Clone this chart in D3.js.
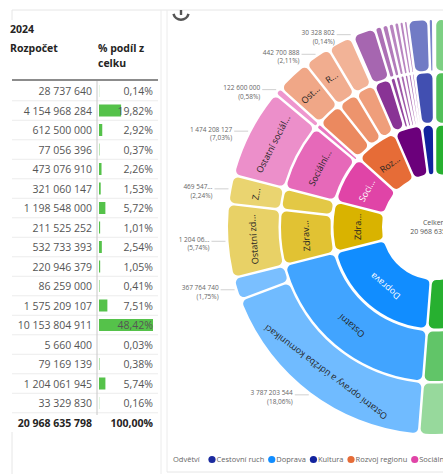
<!DOCTYPE html>
<html><head><meta charset="utf-8">
<script src="https://cdn.jsdelivr.net/npm/d3@7"></script>
<style>
body{margin:0;background:#fff;font-family:'Open Sans','Segoe UI',sans-serif;}
svg{display:block}
</style>
</head><body>
<svg id="c" width="443" height="474"></svg>
<script>
// ---------- TABLE DATA ----------
const tableYear = "2024";
const tableHeaders = ["Rozpočet", "% podíl z", "celku"];
const budgetValues = [28737640, 4154968284, 612500000, 77056396, 473076910, 321060147,
  1198548000, 211525252, 532733393, 220946379, 86259000, 1575209107, 10153804911,
  5660400, 79169139, 1204061945, 33329830];
const budgetTotal = 20968635798;

// ---------- SUNBURST DATA ----------
const sectorNames = ["Školství", "Doprava", "Zdravotnictví", "Sociální věci", "Rozvoj regionu", "Sport", "Kultura", "Cestovní ruch"];
const sectorColors = ["#27B030", "#118DFF", "#D9B300", "#E044A7", "#E66C37", "#6B007B", "#12239E", "#2A3BB0"];
const leafSector = [
  "Školství", "Školství", "Školství", "Školství",
  "Doprava", "Doprava",
  "Zdravotnictví", "Zdravotnictví",
  "Sociální věci", "Sociální věci",
  "Rozvoj regionu", "Rozvoj regionu", "Rozvoj regionu", "Rozvoj regionu",
  "Sport", "Sport", "Sport", "Sport", "Sport", "Sport", "Sport",
  "Kultura", "Kultura",
  "Cestovní ruch"];
const leafGroup = [
  "Regionální školství", "Regionální školství", "Vysoké a ostatní školství", "Vysoké a ostatní školství",
  "Ostatní", "Ostatní",
  "Zdravotní péče", "Záchranná služba",
  "Sociální služby", "Sociální dávky",
  "Ostatní rozvoj", "Regionální programy", "Územní plánování", "Územní plánování",
  "Sportovní zařízení", "Tělovýchova", "Sportovní akce", "Mládež", "Rekreace", "Sportovní kluby", "Ostatní sport",
  "Kulturní zařízení", "Kulturní zařízení",
  "Propagace"];
const leafName = [
  "Základní školy", "Střední školy", "Vysoké školy", "Ostatní školství",
  "Ostatní opravy a údržba komunikací", "Silnice",
  "Ostatní zdravotnictví", "Zdravotnická záchranná služba",
  "Ostatní sociální služby", "Sociální péče",
  "Ostatní rozvoj regionu", "Regionální programy", "Územní plánování", "Drobné projekty",
  "Sportovní zařízení", "Tělovýchova", "Sportovní akce", "Mládež", "Rekreace", "Sportovní kluby", "Ostatní sport",
  "Divadla", "Muzea",
  "Propagace"];
const leafValue = [
  4200000000, 2100000000, 3842326216, 600000000,
  3787203544, 367764740,
  1204061945, 469547500,
  1474208127, 122600000,
  560000000, 442700888, 404600000, 30328802,
  377000000, 120000000, 105000000, 95000000, 85000000, 75000000, 65000000,
  335500000, 77056396,
  28737640];
const labelledLeaves = ["Ostatní opravy a údržba komunikací", "Silnice", "Ostatní zdravotnictví",
  "Zdravotnická záchranná služba", "Ostatní sociální služby", "Sociální péče", "Regionální programy", "Drobné projekty"];
const centerTitle = "Celkem";
const legendTitle = "Odvětví";
const legendItems = ["Cestovní ruch", "Doprava", "Kultura", "Rozvoj regionu", "Sociální věci"];
const legendColors = ["#1B2A9E", "#118DFF", "#12239E", "#E66C37", "#E044A7"];

// ---------- HELPERS ----------
const FF = "'Open Sans','Segoe UI',sans-serif";
const ctx = document.createElement("canvas").getContext("2d");
function tw(t, size, weight) { ctx.font = (weight || "normal") + " " + size + "px 'Open Sans'"; return ctx.measureText(t).width; }
function fit(t, size, maxW) {
  if (tw(t, size) <= maxW) return t;
  for (let n = t.length - 1; n > 0; n--) {
    const s = t.slice(0, n).trimEnd() + "...";
    if (tw(s, size) <= maxW) return s;
  }
  return null;
}
const fmtNum = v => d3.format(",")(Math.round(v)).replace(/,/g, " ");
const fmtPct = p => d3.format(".2f")(p).replace(".", ",") + "%";

const svg = d3.select("#c");

// ---------- PANEL FRAMES ----------
svg.append("line").attr("x1", 12).attr("x2", 443).attr("y1", 10).attr("y2", 10).attr("stroke", "#e6e6e6");
svg.append("line").attr("x1", 161).attr("x2", 161).attr("y1", 10).attr("y2", 474).attr("stroke", "#ececec");
svg.append("line").attr("x1", 167).attr("x2", 167).attr("y1", 10).attr("y2", 472).attr("stroke", "#ececec");
svg.append("line").attr("x1", 167).attr("x2", 443).attr("y1", 472).attr("y2", 472).attr("stroke", "#e6e6e6");
svg.append("line").attr("x1", 12).attr("x2", 12).attr("y1", 10).attr("y2", 20).attr("stroke", "#e6e6e6");
svg.append("line").attr("x1", 12).attr("x2", 12).attr("y1", 432).attr("y2", 474).attr("stroke", "#e6e6e6");

// ---------- TABLE ----------
const tbl = svg.append("g");
const valRight = 92, pctRight = 153, barLeft = 99;
tbl.append("text").attr("x", 10).attr("y", 33).attr("font-family", FF).attr("font-size", 10.5)
  .attr("font-weight", "bold").attr("fill", "#252423").text(tableYear);
tbl.append("text").attr("x", 10).attr("y", 52).attr("font-family", FF).attr("font-size", 10.5)
  .attr("font-weight", "bold").attr("fill", "#252423").text(tableHeaders[0]);
tbl.append("text").attr("x", 98).attr("y", 52).attr("font-family", FF).attr("font-size", 10.5)
  .attr("font-weight", "bold").attr("fill", "#252423").text(tableHeaders[1]);
tbl.append("text").attr("x", 98).attr("y", 67).attr("font-family", FF).attr("font-size", 10.5)
  .attr("font-weight", "bold").attr("fill", "#252423").text(tableHeaders[2]);
tbl.append("line").attr("x1", 12).attr("x2", 158).attr("y1", 80).attr("y2", 80)
  .attr("stroke", "#666").attr("stroke-width", 1.5);

const pcts = budgetValues.map(v => v / budgetTotal * 100);
const yRow = d3.scaleLinear().domain([0, budgetValues.length - 1]).range([91, 403]);
const xBar = d3.scaleLinear().domain([0, d3.max(pcts)]).range([0, pctRight - barLeft]);

tbl.selectAll("line.sep").data(budgetValues).join("line").attr("class", "sep")
  .attr("x1", 12).attr("x2", 158)
  .attr("y1", (d, i) => yRow(i) + 9.75).attr("y2", (d, i) => yRow(i) + 9.75)
  .attr("stroke", "#ececec");
tbl.append("line").attr("x1", 97).attr("x2", 97).attr("y1", 81).attr("y2", yRow(budgetValues.length - 1) + 12)
  .attr("stroke", "#c8c8c8");
tbl.selectAll("rect.bar").data(pcts).join("rect").attr("class", "bar")
  .attr("x", barLeft).attr("y", (d, i) => yRow(i) - 6)
  .attr("width", d => xBar(d)).attr("height", 12).attr("fill", "#55C24A");
tbl.selectAll("text.val").data(budgetValues).join("text").attr("class", "val")
  .attr("x", valRight).attr("y", (d, i) => yRow(i) + 4).attr("text-anchor", "end")
  .attr("font-family", FF).attr("font-size", 10.5).attr("fill", "#555")
  .text(d => fmtNum(d));
tbl.selectAll("text.pct").data(pcts).join("text").attr("class", "pct")
  .attr("x", pctRight).attr("y", (d, i) => yRow(i) + 4).attr("text-anchor", "end")
  .attr("font-family", FF).attr("font-size", 10.5).attr("fill", "#555")
  .text(d => fmtPct(d));
const yTot = yRow(budgetValues.length - 1) + 19.5;
tbl.append("text").attr("x", valRight).attr("y", yTot + 4).attr("text-anchor", "end")
  .attr("font-family", FF).attr("font-size", 10.5).attr("font-weight", "bold").attr("fill", "#252423")
  .text(fmtNum(budgetTotal));
tbl.append("text").attr("x", pctRight).attr("y", yTot + 4).attr("text-anchor", "end")
  .attr("font-family", FF).attr("font-size", 10.5).attr("font-weight", "bold").attr("fill", "#252423")
  .text(fmtPct(100));

// ---------- INFO ICON ----------
const ic = svg.append("g").attr("transform", "translate(181,12)");
ic.append("path").attr("d", d3.arc()({ innerRadius: 6.5, outerRadius: 9, startAngle: Math.PI / 2 + 0.25, endAngle: 3 * Math.PI / 2 - 0.25 }))
  .attr("fill", "#555");
ic.append("rect").attr("x", -1.2).attr("y", -2).attr("width", 2.4).attr("height", 5).attr("fill", "#555");

// ---------- SUNBURST ----------
const cx = 435, cy = 227;
const rIn = [0, 53, 104.5, 156.5], rOut = [0, 101.5, 154, 207];
const leaves = leafValue.map((v, i) => ({ sector: leafSector[i], group: leafGroup[i], name: leafName[i], value: v }));
const grouped = d3.group(leaves, d => d.sector, d => d.group);
const root = d3.hierarchy(["Celkem", grouped], ([k, v]) => {
  if (v instanceof Map) return Array.from(v);
  if (Array.isArray(v)) return v.map(l => [l.name, l]);
  return null;
}).sum(([k, v]) => (v && !(v instanceof Map) && !Array.isArray(v)) ? v.value : 0);
d3.partition().size([2 * Math.PI, 1])(root);

const total = root.value;
function sectorOf(d) { let n = d; while (n.depth > 1) n = n.parent; return n; }
function nodeColor(d) {
  const s = sectorOf(d);
  const base = sectorColors[sectorNames.indexOf(s.data[0])];
  if (d.depth === 1) return base;
  const peers = s.descendants().filter(n => n.depth === d.depth);
  const idx = Math.min(peers.indexOf(d), 3);
  const t = d.depth === 2 ? 0.2 + 0.07 * idx : 0.4 + 0.04 * idx;
  return d3.interpolateRgb(base, "#ffffff")(t);
}
const arc = d3.arc()
  .startAngle(d => d.x0).endAngle(d => d.x1)
  .innerRadius(d => rIn[d.depth]).outerRadius(d => rOut[d.depth])
  .padAngle(0.025).padRadius(100).cornerRadius(5);

const sb = svg.append("g").attr("transform", `translate(${cx},${cy})`);
const nodes = root.descendants().filter(d => d.depth > 0);
sb.selectAll("path.seg").data(nodes).join("path").attr("class", "seg")
  .attr("d", arc).attr("fill", d => nodeColor(d));

// segment labels (only where they fit and are inside the view)
const segFont = 9;
nodes.forEach(d => {
  const a = (d.x0 + d.x1) / 2;
  const r = (rIn[d.depth] + rOut[d.depth]) / 2;
  const px = r * Math.sin(a), py = -r * Math.cos(a);
  if (cx + px > 425) return;
  const avail = (d.x1 - d.x0) * r * 0.85 - 4;
  if (avail < 16) return;
  const t = fit(d.data[0], segFont, avail);
  if (!t) return;
  const col = d3.lab(nodeColor(d)).l > 60 ? "#252423" : "#ffffff";
  sb.append("text")
    .attr("transform", `translate(${px},${py}) rotate(${a * 180 / Math.PI})`)
    .attr("text-anchor", "middle").attr("dy", "0.35em")
    .attr("font-family", FF).attr("font-size", segFont).attr("fill", col)
    .text(t);
});

// outer data labels
const lblFont = 6.5;
root.leaves().filter(d => labelledLeaves.includes(d.data[0])).forEach(d => {
  const a = (d.x0 + d.x1) / 2;
  const px = 210 * Math.sin(a), py = -210 * Math.cos(a);
  const left = Math.sin(a) < 0;
  const lx = left ? px - 14 : px + 14;
  sb.append("line").attr("x1", px).attr("y1", py).attr("x2", lx).attr("y2", py)
    .attr("stroke", "#bbb").attr("stroke-width", 0.7);
  const tx = left ? lx - 2 : lx + 2;
  const availW = left ? (cx + tx) - 178 : 400;
  const vText = fit(fmtNum(d.value), lblFont, availW);
  const g = sb.append("g").attr("font-family", FF).attr("font-size", lblFont).attr("fill", "#666")
    .attr("text-anchor", left ? "end" : "start");
  g.append("text").attr("x", tx).attr("y", py + 0.5).text(vText);
  g.append("text").attr("x", tx).attr("y", py + 9).text("(" + fmtPct(d.value / total * 100) + ")");
});

// center text
sb.append("text").attr("y", -2).attr("text-anchor", "middle").attr("font-family", FF)
  .attr("font-size", 7).attr("fill", "#555").text(centerTitle);
sb.append("text").attr("y", 7).attr("text-anchor", "middle").attr("font-family", FF)
  .attr("font-size", 7).attr("fill", "#555").text(fmtNum(total));

// ---------- LEGEND ----------
const lg = svg.append("g").attr("font-family", FF).attr("font-size", 7.5).attr("fill", "#666");
lg.append("text").attr("x", 173).attr("y", 462).text(legendTitle);
let lx = 212;
legendItems.forEach((name, i) => {
  lg.append("circle").attr("cx", lx).attr("cy", 459.5).attr("r", 3.6).attr("fill", legendColors[i]);
  lg.append("text").attr("x", lx + 4.5).attr("y", 462).text(name);
  lx += 4.5 + tw(name, 7.5) + 7.5;
});
</script>
</body></html>
